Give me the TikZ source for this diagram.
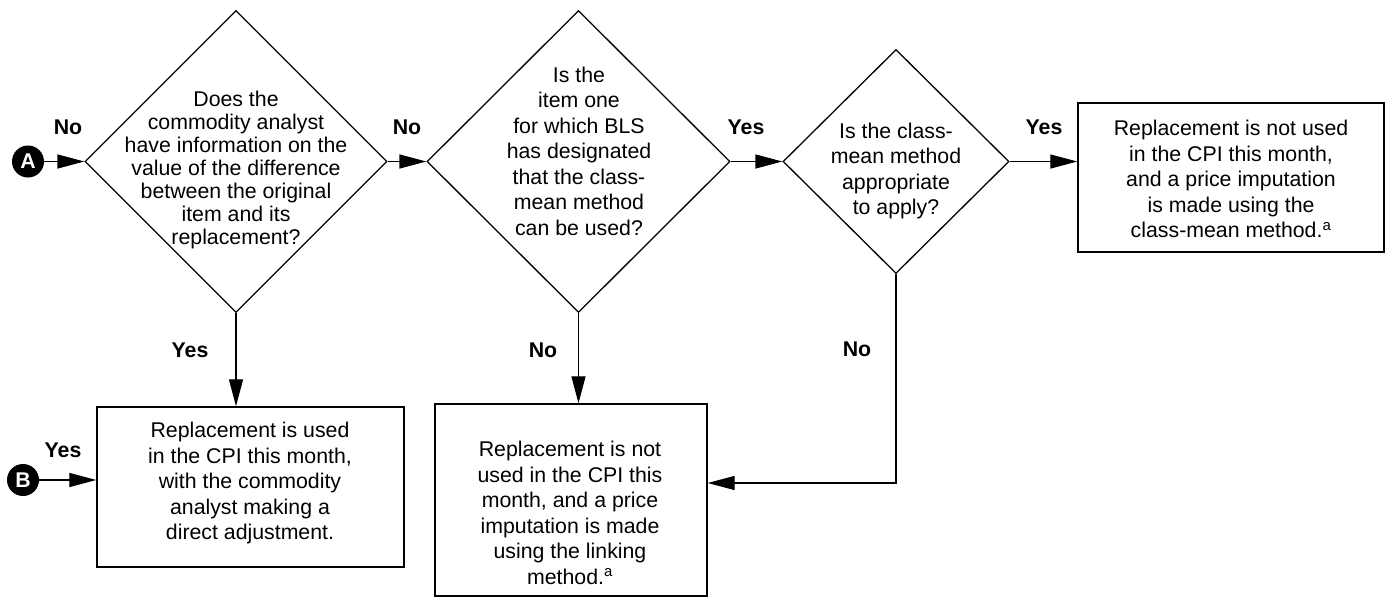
\documentclass[tikz,border=0pt]{standalone}
\usepackage{fontspec}
\setmainfont{Liberation Sans}
\usetikzlibrary{shapes.geometric,arrows.meta}
\begin{document}
\begin{tikzpicture}[x=1pt,y=-1pt,
 dec/.style={draw,diamond,aspect=1,inner sep=0pt,line width=1.3pt},
 box/.style={draw,rectangle,line width=1.4pt,inner sep=0pt},
 txt/.style={align=center,font=\fontsize{21.3}{25.5}\selectfont,inner sep=0pt},
 lbl/.style={font=\fontsize{21.3}{25.5}\selectfont\bfseries,inner sep=0pt},
 conn/.style={line width=1.3pt,-{Triangle[length=27pt,width=14pt]}},
 dot/.style={circle,fill=black,minimum size=32pt,inner sep=0pt,text=white,font=\fontsize{21.3}{25.5}\selectfont\bfseries}]
\useasboundingbox (0,0) rectangle (1388,597);

% decisions
\node[dec,minimum width=302pt,minimum height=302pt] (d1) at (236,161.5) {};
\node[dec,minimum width=303pt,minimum height=302pt] (d2) at (578.5,161.5) {};
\node[dec,minimum width=226pt,minimum height=224pt] (d3) at (896,161.5) {};

% boxes
\node[box,minimum width=307pt,minimum height=160pt] (bBL) at (250.5,487) {};
\node[box,minimum width=272pt,minimum height=192pt] (bM) at (571,500) {};
\node[box,minimum width=306pt,minimum height=149pt] (bR) at (1231,177.5) {};

% connector circles
\node[dot] (A) at (28,161.5) {A};
\node[dot] (B) at (23,480) {B};

% texts
\node[txt,font=\fontsize{21.3}{23}\selectfont] (t1) at (236,170) {Does the\\commodity analyst\\have information on the\\value of the difference\\between the original\\item and its\\replacement?};
\node[txt] (t2) at (579,151) {Is the\\item one\\for which BLS\\has designated\\that the class-\\mean method\\can be used?};
\node[txt] (t3) at (896,171) {Is the class-\\mean method\\appropriate\\to apply?};
\node[txt] (tR) at (1231,179) {Replacement is not used\\in the CPI this month,\\and a price imputation\\is made using the\\class-mean method.\textsuperscript{a}};
\node[txt] (tBL) at (250,483) {Replacement is used\\in the CPI this month,\\with the commodity\\analyst making a\\direct adjustment.};
\node[txt] (tM) at (570,513) {Replacement is not\\used in the CPI this\\month, and a price\\imputation is made\\using the linking\\method.\textsuperscript{a}};

% labels
\node[lbl] (l1) at (68,127) {No};
\node[lbl] (l2) at (407,127) {No};
\node[lbl] (l3) at (746,127) {Yes};
\node[lbl] (l4) at (1044,127) {Yes};
\node[lbl] (l5) at (190,350) {Yes};
\node[lbl] (l6) at (543,350) {No};
\node[lbl] (l7) at (857,349) {No};
\node[lbl] (l8) at (63,450) {Yes};

% connectors
\draw[conn] (A) -- (d1.west);
\draw[conn] (B) -- (B -| bBL.west);
\draw[conn] (d1.east) -- (d2.west);
\draw[conn] (d2.east) -- (d3.west);
\draw[conn] (d3.east) -- (d3.east -| bR.west);
\draw[conn] (d1.south) -- (d1.south |- bBL.north);
\draw[conn] (d2.south) -- (d2.south |- bM.north);
\draw[conn] (d3.south) |- ([yshift=17pt]bM.east);
\end{tikzpicture}
\end{document}
